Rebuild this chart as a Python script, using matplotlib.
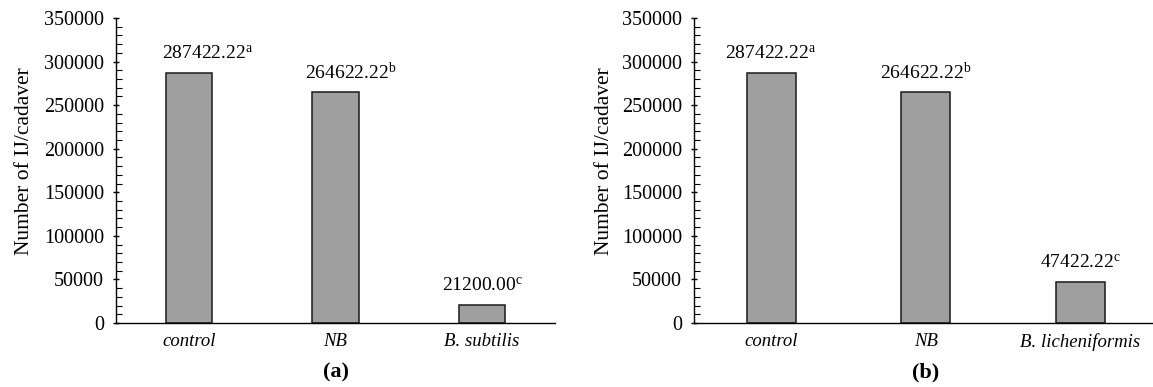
import matplotlib
matplotlib.use("Agg")
import matplotlib.pyplot as plt
from matplotlib.ticker import MultipleLocator

plt.rcParams['font.family'] = ['Liberation Serif', 'DejaVu Serif']
plt.rcParams['mathtext.fontset'] = 'custom'
plt.rcParams['mathtext.rm'] = 'Liberation Serif'
plt.rcParams['mathtext.it'] = 'Liberation Serif:italic'

categories_a = ["control", "NB", "B. subtilis"]
values_a = [287422.22, 264622.22, 21200.00]
letters_a = ["a", "b", "c"]

categories_b = ["control", "NB", "B. licheniformis"]
values_b = [287422.22, 264622.22, 47422.22]
letters_b = ["a", "b", "c"]

panel_labels = ["(a)", "(b)"]
ylabel = "Number of IJ/cadaver"

# horizontal nudges of the value labels (points), as placed in the original figure
label_dx_a = [13, 11, 0.5]
label_dx_b = [-0.5, 0, 0]

W, H = 1153, 387
fig = plt.figure(figsize=(W / 100, H / 100), dpi=100)

def px_ax(x0, x1, ytop, ybot):
    return fig.add_axes([x0 / W, 1 - ybot / H, (x1 - x0) / W, (ybot - ytop) / H])

axes = [px_ax(116, 555, 18, 323), px_ax(694, 1157.5, 18, 323)]
data = [(categories_a, values_a, letters_a, label_dx_a),
        (categories_b, values_b, letters_b, label_dx_b)]
ylabel_x = [-0.186, -0.173]

for ax, (cats, vals, lets, dxs), plabel, ylx in zip(axes, data, panel_labels, ylabel_x):
    x = list(range(len(cats)))
    ax.bar(x, vals, width=0.315, color="#9f9f9f", edgecolor="#1a1a1a", linewidth=1.1, zorder=2)
    ax.set_xlim(-0.5, 2.5)
    ax.set_ylim(0, 350000)
    ax.yaxis.set_major_locator(MultipleLocator(50000))
    ax.yaxis.set_minor_locator(MultipleLocator(10000))
    ax.spines['top'].set_visible(False)
    ax.spines['right'].set_visible(False)
    ax.spines['left'].set_linewidth(1.0)
    ax.spines['bottom'].set_linewidth(1.0)
    ax.tick_params(axis='y', which='major', direction='inout', length=5, width=1.0,
                   labelsize=14.5, pad=6)
    ax.tick_params(axis='y', which='minor', direction='in', length=4, width=0.8)
    ax.set_xticks(x)
    ax.set_xticklabels(cats, fontstyle='italic', fontsize=13.5)
    ax.tick_params(axis='x', which='both', length=0, pad=7)
    ax.set_ylabel(ylabel, fontsize=15.5)
    ax.yaxis.set_label_coords(ylx, 0.53)
    for xi, v, l, dx in zip(x, vals, lets, dxs):
        ax.annotate(f"{v:.2f}" + r"$^{\mathrm{" + l + "}}$", (xi, v),
                    xytext=(dx, 7), textcoords='offset points',
                    ha='center', va='bottom', fontsize=14)
    ax.text(1, -0.13, plabel, transform=ax.get_xaxis_transform(), ha='center', va='top',
            fontsize=16, fontweight='bold')

fig.savefig("out.png", dpi=100)
